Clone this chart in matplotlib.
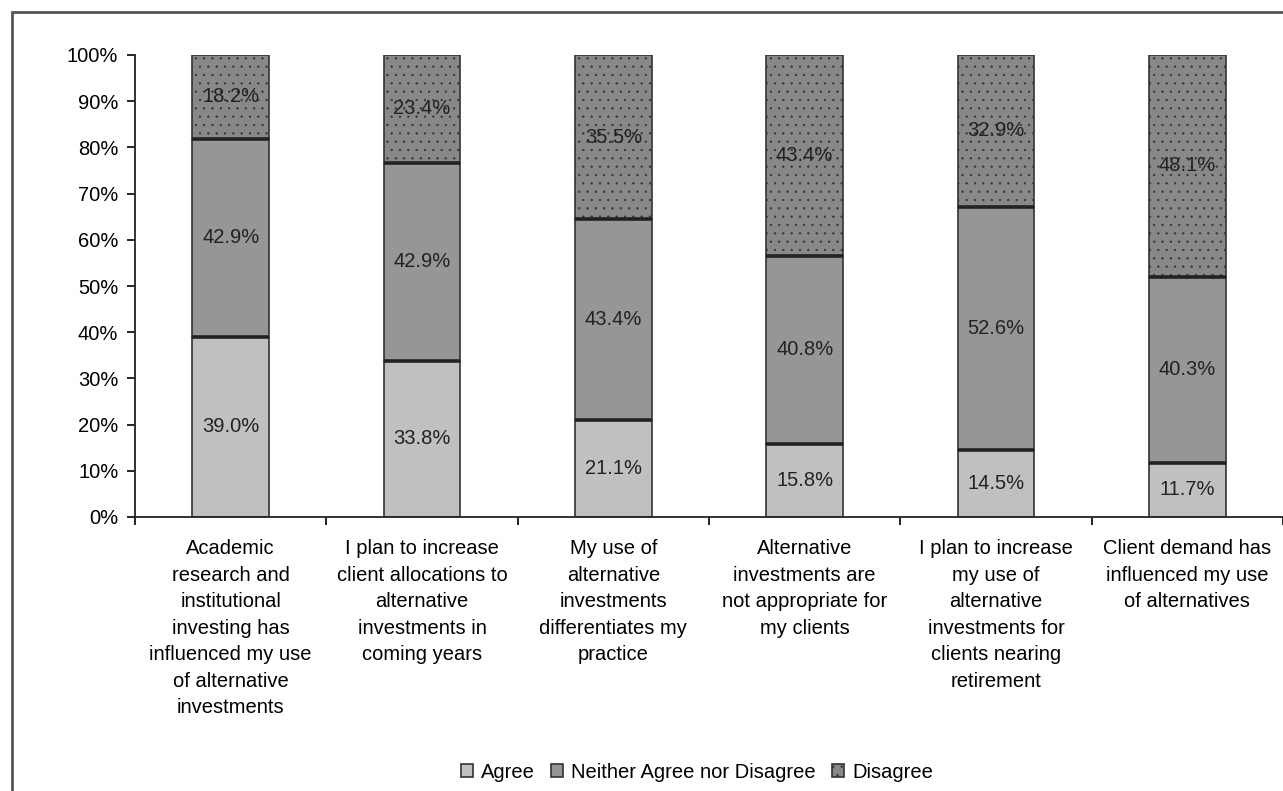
import matplotlib.pyplot as plt
import numpy as np
from matplotlib.patches import Rectangle

categories = [
    "Academic\nresearch and\ninstitutional\ninvesting has\ninfluenced my use\nof alternative\ninvestments",
    "I plan to increase\nclient allocations to\nalternative\ninvestments in\ncoming years",
    "My use of\nalternative\ninvestments\ndifferentiates my\npractice",
    "Alternative\ninvestments are\nnot appropriate for\nmy clients",
    "I plan to increase\nmy use of\nalternative\ninvestments for\nclients nearing\nretirement",
    "Client demand has\ninfluenced my use\nof alternatives",
]
agree = [39.0, 33.8, 21.1, 15.8, 14.5, 11.7]
neither = [42.9, 42.9, 43.4, 40.8, 52.6, 40.3]
disagree = [18.2, 23.4, 35.5, 43.4, 32.9, 48.1]

plt.rcParams['font.family'] = ['Liberation Sans', 'DejaVu Sans']
plt.rcParams['hatch.color'] = '#7a7a7a'
plt.rcParams['hatch.linewidth'] = 0.4

FS = 14.5

fig = plt.figure(figsize=(12.83, 7.91), dpi=100)
ax = fig.add_axes([135 / 1283, 1 - 517 / 791, (1283 - 135) / 1283, (517 - 55) / 791])

# outer frame
fig.patches.append(Rectangle((12 / 1283, -0.01), 1.1, 1 - 12 / 791 + 0.01,
                             transform=fig.transFigure, fill=False,
                             edgecolor='#555555', linewidth=2))

x = np.arange(len(categories))
w = 0.4
a = np.array(agree)
n = np.array(neither)
d = np.array(disagree)
b1 = ax.bar(x, a, w, color='#c0c0c0', edgecolor='#333333', linewidth=1.2, label='Agree')
b2 = ax.bar(x, n, w, bottom=a, color='#969696', edgecolor='#333333', linewidth=1.2,
            label='Neither Agree nor Disagree')
b3 = ax.bar(x, d, w, bottom=a + n, color='#888888', edgecolor='#333333', linewidth=1.2,
            hatch='..', label='Disagree')
for r in b3:
    r.set_edgecolor('#333333')

# thick separators between segments
ax.hlines(a, x - w / 2, x + w / 2, color='#222222', linewidth=2.6, zorder=3)
ax.hlines(a + n, x - w / 2, x + w / 2, color='#222222', linewidth=2.6, zorder=3)

for vals, bottoms in [(a, np.zeros_like(a)), (n, a), (d, a + n)]:
    for xi, v, bt in zip(x, vals, bottoms):
        top = min(bt + v, 100)
        ax.text(xi, (bt + top) / 2, f"{v:.1f}%", ha='center', va='center',
                fontsize=FS, color='#222222', zorder=4)

ax.set_xlim(-0.5, len(categories) - 0.5)
ax.set_ylim(0, 100)
ax.set_yticks(np.arange(0, 101, 10))
ax.set_yticklabels([f"{v}%" for v in range(0, 101, 10)], fontsize=FS)
ax.tick_params(axis='y', direction='out', length=6, width=1.2, pad=6)
ax.set_xticks(np.arange(-0.5, len(categories), 1.0))
ax.set_xticklabels([])
ax.tick_params(axis='x', direction='out', length=6, width=1.2)
for xi, c in zip(x, categories):
    ax.text(xi, -4.8, c, ha='center', va='top', fontsize=FS, linespacing=1.5,
            clip_on=False)

for s in ['top', 'right']:
    ax.spines[s].set_visible(False)
for s in ['left', 'bottom']:
    ax.spines[s].set_linewidth(1.3)
    ax.spines[s].set_color('#222222')

fig.legend(handles=[b1, b2, b3], loc='center', bbox_to_anchor=(697 / 1283, 1 - 772 / 791),
           ncol=3, frameon=False, fontsize=FS, handlelength=0.6, handleheight=0.6,
           handletextpad=0.4, columnspacing=0.8)

fig.savefig('out.png', dpi=100)
